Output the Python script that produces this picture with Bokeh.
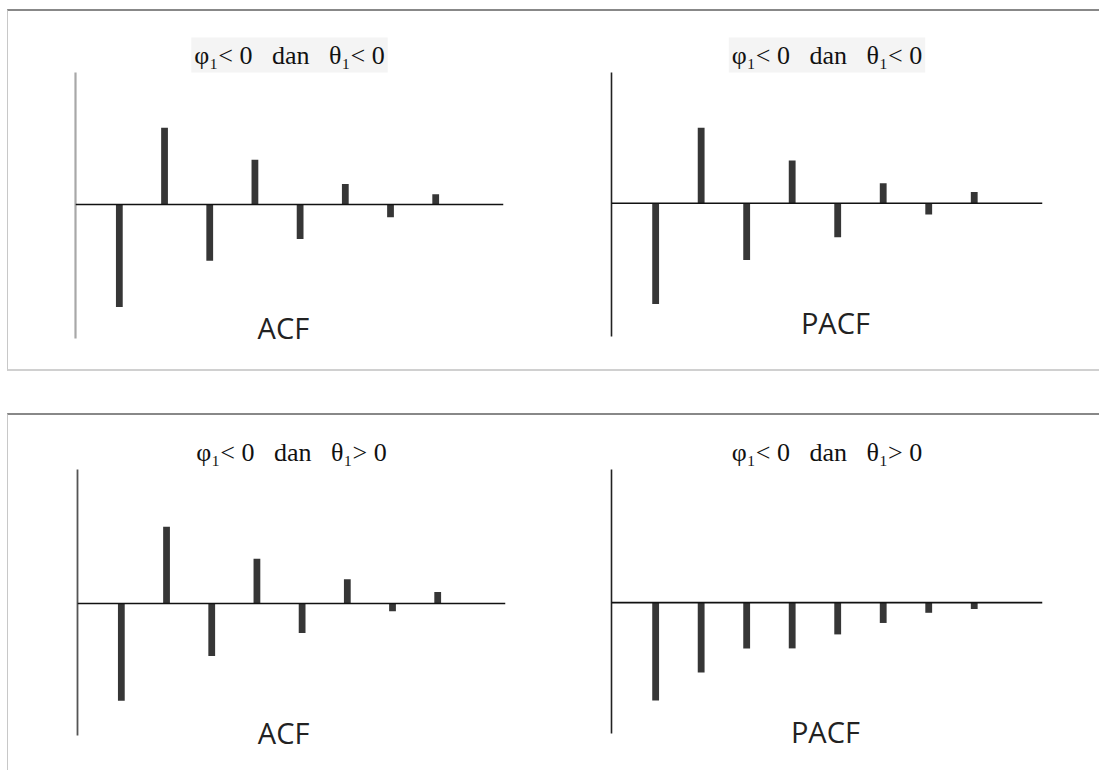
from bokeh.plotting import figure
from bokeh.layouts import row, column
from bokeh.models import Label, LinearAxis, FixedTicker, Title, Span
from bokeh.embed import file_html
from bokeh.resources import INLINE

lags = [1, 2, 3, 4, 5, 6, 7, 8]
acf_top = [-0.80, 0.60, -0.44, 0.35, -0.27, 0.16, -0.10, 0.08]
pacf_top = [-0.80, 0.60, -0.45, 0.34, -0.27, 0.16, -0.09, 0.09]
acf_bottom = [-0.76, 0.60, -0.41, 0.35, -0.23, 0.19, -0.06, 0.09]
pacf_bottom = [-0.77, -0.55, -0.36, -0.36, -0.25, -0.16, -0.08, -0.05]
title_top = "φ₁< 0\u2002 dan\u2002 θ₁< 0"
title_bottom = "φ₁< 0\u2002 dan\u2002 θ₁> 0"
label_acf = "ACF"
label_pacf = "PACF"

BAR = "#363636"


def panel(values, title, name, width, height, borders, y_range, axis_bounds,
          label_pos, axis_color, axis_width, title_bg, standoff):
    left, right, top, bottom = borders
    p = figure(width=width, height=height, x_range=(0.03, 9.5), y_range=y_range,
               output_backend="svg", toolbar_location=None,
               min_border_left=left, min_border_right=right,
               min_border_top=top, min_border_bottom=bottom,
               x_axis_type=None, y_axis_type=None,
               background_fill_color="white", border_fill_color="white",
               outline_line_color=None)
    p.grid.visible = False
    p.title = Title(text=title, align="center", text_font="Liberation Serif",
                    text_font_size="26px", text_font_style="normal",
                    text_color="#111111", background_fill_color=title_bg,
                    padding=3, standoff=standoff)
    yax = LinearAxis(ticker=FixedTicker(ticks=[]), axis_line_color=axis_color,
                     axis_line_width=axis_width, major_tick_line_color=None,
                     minor_tick_line_color=None, bounds=axis_bounds)
    p.add_layout(yax, "left")
    p.add_layout(Span(location=0, dimension="width", line_color="#111111",
                      line_width=1.6))
    p.vbar(x=lags, top=values, bottom=0, width=0.15, fill_color=BAR,
           line_color=None)
    p.add_layout(Label(x=label_pos[0], y=label_pos[1], text=name,
                       text_align="center", text_baseline="middle",
                       text_font="Open Sans", text_font_size="29px",
                       text_color="#222222"))
    return p


p1 = panel(acf_top, title_top, label_acf, 532, 358, (67, 37, 61, 5),
           (-1.25, 1.031), (-1.047, 1.031), (4.63, -0.96),
           "#a8a8a8", 2.2, "#f4f4f4", 0)
p2 = panel(pacf_top, title_top, label_pacf, 559, 358, (71, 57, 56, 5),
           (-1.281, 1.039), (-1.055, 1.039), (4.95, -0.95),
           "#222222", 1.6, "#f4f4f4", 0)
p3 = panel(acf_bottom, title_bottom, label_acf, 532, 355, (69, 35, 54, 5),
           (-1.266, 1.047), (-1.031, 1.047), (4.59, -1.01),
           "#555555", 1.8, None, 0)
p4 = panel(pacf_bottom, title_bottom, label_pacf, 559, 355, (71, 57, 52, 5),
           (-1.281, 1.047), (-1.031, 1.047), (4.73, -1.01),
           "#222222", 1.6, None, 0)

r1 = row(p1, p2, margin=(9, 0, 0, 7),
         styles={"border-top": "2px solid #888888",
                 "border-left": "1px solid #c8c8c8",
                 "border-bottom": "2px solid #d0d0d0"})
r2 = row(p3, p4, margin=(42, 0, 0, 7),
         styles={"border-top": "2px solid #888888",
                 "border-left": "1px solid #c8c8c8"})
layout = column(r1, r2)

open("out.html", "w").write(file_html(layout, INLINE))
